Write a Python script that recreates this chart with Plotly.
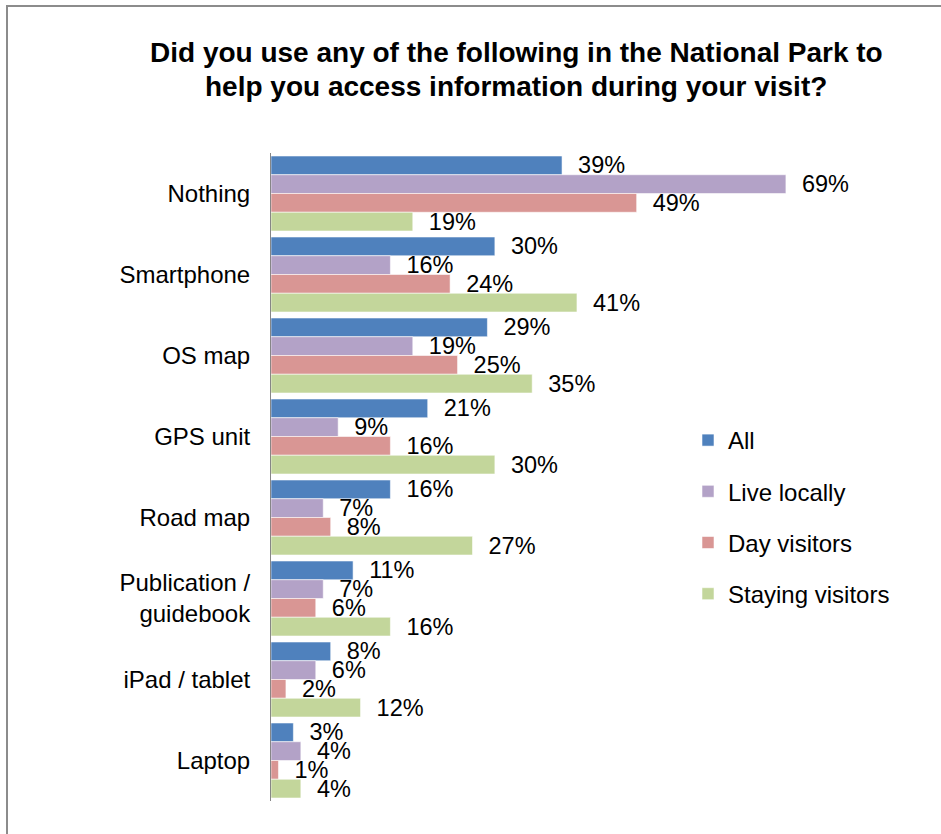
import plotly.graph_objects as go

# Survey answers (percent of respondents)
categories = ["Nothing", "Smartphone", "OS map", "GPS unit", "Road map",
              "Publication /<br>guidebook", "iPad / tablet", "Laptop"]
series_names = ["All", "Live locally", "Day visitors", "Staying visitors"]
all_vals = [39, 30, 29, 21, 16, 11, 8, 3]
live_locally = [69, 16, 19, 9, 7, 7, 6, 4]
day_visitors = [49, 24, 25, 16, 8, 6, 2, 1]
staying_visitors = [19, 41, 35, 30, 27, 16, 12, 4]
series_values = [all_vals, live_locally, day_visitors, staying_visitors]
colors = ["#4F81BD", "#B3A2C7", "#D99694", "#C3D69B"]

FONT = "Arial, 'Liberation Sans', sans-serif"
W, H = 941, 834
L, R, T, B = 271, 73, 153, 33
PW, PH = W - L - R, H - T - B

fig = go.Figure()
for name, vals, col in zip(series_names, series_values, colors):
    fig.add_trace(go.Bar(
        name=name, y=categories, x=vals, orientation="h",
        marker=dict(color=col, line=dict(color="rgba(255,255,255,0.55)", width=1)),
        text=vals, texttemplate="\u00a0\u00a0%{x}%", textposition="outside",
        textfont=dict(family=FONT, size=23.5, color="#000000"),
        constraintext="none", cliponaxis=False,
        legendgroup=name,
    ))

def px_x(x):
    return (x - L) / PW

def px_y(y):
    return (H - B - y) / PH

# Chart-area border
fig.add_shape(type="rect", xref="paper", yref="paper",
              x0=px_x(7), x1=px_x(960), y0=px_y(6), y1=px_y(860),
              line=dict(color="#8C8C8C", width=2), fillcolor="rgba(0,0,0,0)", layer="below")

title_lines = ["Did you use any of the following in the National Park to",
               "help you access information during your visit?"]
for line, yc in zip(title_lines, [53, 86]):
    fig.add_annotation(text="<b>" + line + "</b>", xref="paper", yref="paper",
                       x=px_x(516), y=px_y(yc), xanchor="center", yanchor="middle",
                       showarrow=False, font=dict(family=FONT, size=28, color="#000000"))

fig.update_layout(
    width=W, height=H,
    margin=dict(l=L, r=R, t=T, b=B, autoexpand=False),
    barmode="group", bargap=0.074, bargroupgap=0,
    plot_bgcolor="white", paper_bgcolor="white",
    font=dict(family=FONT, size=24, color="#000000"),
    showlegend=True,
    legend=dict(x=px_x(688), y=px_y(418), xanchor="left", yanchor="top",
                font=dict(family=FONT, size=24, color="#000000"),
                tracegroupgap=17, bgcolor="rgba(0,0,0,0)", traceorder="grouped"),
    xaxis=dict(range=[0, 80], visible=False, fixedrange=True),
    yaxis=dict(autorange="reversed", showline=True, linecolor="#868686", linewidth=1,
               ticks="", ticklabelstandoff=15, showgrid=False, zeroline=False,
               tickfont=dict(family=FONT, size=24, color="#000000")),
)

fig.write_html("out.html")
